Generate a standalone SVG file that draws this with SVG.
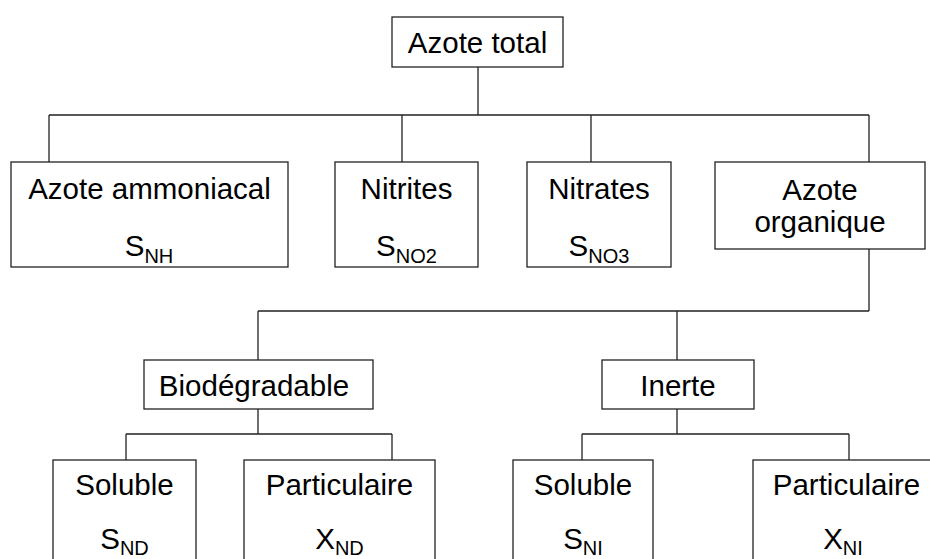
<svg xmlns="http://www.w3.org/2000/svg" width="930" height="559" viewBox="0 0 930 559">
<style>
.box{fill:#fff;stroke:#222;stroke-width:1.3}
.c{fill:none;stroke:#222;stroke-width:1.3}
text{font-family:"Liberation Sans",Arial,sans-serif;font-size:29.5px;fill:#000;text-anchor:middle}
.sub{font-size:20px}
</style>
<rect width="930" height="559" fill="#fff"/>
<g id="connectors">
<path class="c" d="M478 67V115M49 115H869M49 115V162M402 115V162M591 115V162M869 115V162"/>
<path class="c" d="M869 249V311M258 311H869M258 311V360M677 311V360"/>
<path class="c" d="M258 409V434M126 434H392M126 434V460M392 434V460"/>
<path class="c" d="M677 409V434M582 434H849M582 434V460M849 434V460"/>
</g>
<g id="azote-total"><rect class="box" x="392" y="17" width="171" height="50"/><text x="477.5" y="53">Azote total</text></g>
<g id="azote-ammoniacal"><rect class="box" x="11" y="162" width="277" height="105"/><text x="149.5" y="199">Azote ammoniacal</text><text x="149" y="256">S<tspan class="sub" dy="7">NH</tspan></text></g>
<g id="nitrites"><rect class="box" x="335" y="162" width="143" height="105"/><text x="406.5" y="199">Nitrites</text><text x="406.5" y="256">S<tspan class="sub" dy="7">NO2</tspan></text></g>
<g id="nitrates"><rect class="box" x="527" y="162" width="144" height="105"/><text x="599" y="199">Nitrates</text><text x="599" y="256">S<tspan class="sub" dy="7">NO3</tspan></text></g>
<g id="azote-organique"><rect class="box" x="715" y="162" width="210" height="87"/><text x="820" y="200">Azote</text><text x="820" y="232">organique</text></g>
<g id="biodegradable"><rect class="box" x="144" y="360" width="229" height="49"/><text x="254" y="396">Biodégradable</text></g>
<g id="inerte"><rect class="box" x="602" y="360" width="152" height="49"/><text x="678" y="396">Inerte</text></g>
<g id="soluble-nd"><rect class="box" x="53" y="460" width="143" height="120"/><text x="124.5" y="495">Soluble</text><text x="124.5" y="549">S<tspan class="sub" dy="6">ND</tspan></text></g>
<g id="particulaire-nd"><rect class="box" x="244" y="460" width="191" height="120"/><text x="339.5" y="495">Particulaire</text><text x="339.5" y="549">X<tspan class="sub" dy="6">ND</tspan></text></g>
<g id="soluble-ni"><rect class="box" x="513" y="460" width="140" height="120"/><text x="583" y="495">Soluble</text><text x="583" y="549">S<tspan class="sub" dy="6">NI</tspan></text></g>
<g id="particulaire-ni"><rect class="box" x="753" y="460" width="190" height="120"/><text x="846.5" y="495">Particulaire</text><text x="843" y="549">X<tspan class="sub" dy="6">NI</tspan></text></g>
</svg>
